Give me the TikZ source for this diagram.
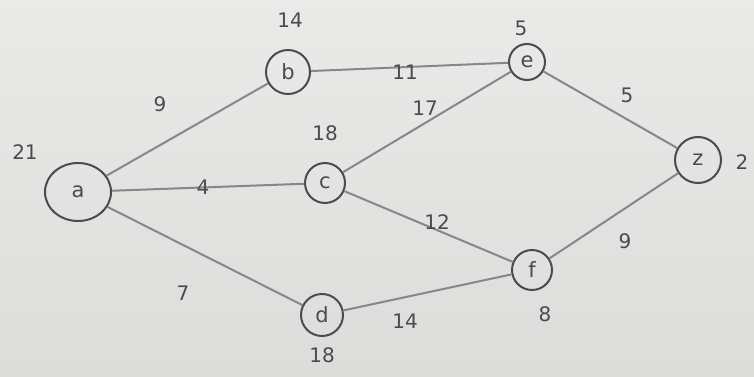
\documentclass[tikz,border=0pt]{standalone}
\usepackage{fontspec}
\setmainfont{DejaVu Sans}
\usetikzlibrary{shapes.geometric}
\definecolor{paper}{RGB}{234,234,232}
\definecolor{paperdark}{RGB}{220,220,218}
\definecolor{ink}{RGB}{75,75,75}
\definecolor{edgeink}{RGB}{135,135,135}
\tikzset{
  vert/.style={circle, draw=ink, line width=2pt, minimum size=40pt, inner sep=0pt, font=\fontsize{21}{21}\selectfont, text=ink},
  edge/.style={draw=edgeink, line width=2pt},
  wlabel/.style={font=\fontsize{20}{20}\selectfont, text=ink, inner sep=0pt},
}
\begin{document}
\begin{tikzpicture}[x=1pt,y=-1pt]
\shade[top color=paper, bottom color=paperdark] (0,0) rectangle (754,377);
\useasboundingbox (0,0) rectangle (754,377);
\node[vert, ellipse, minimum width=66pt, minimum height=58pt] (a) at (78,192) {a};
\node[vert, minimum size=44pt] (b) at (288,72) {b};
\node[vert] (c) at (325,183) {c};
\node[vert, minimum size=42pt] (d) at (322,315) {d};
\node[vert, minimum size=36pt] (e) at (527,62) {e};
\node[vert] (f) at (532,270) {f};
\node[vert, minimum size=46pt] (z) at (698,160) {z};
\draw[edge] (a) -- (b);
\draw[edge] (a) -- (c);
\draw[edge] (a) -- (d);
\draw[edge] (b) -- (e);
\draw[edge] (c) -- (e);
\draw[edge] (c) -- (f);
\draw[edge] (d) -- (f);
\draw[edge] (e) -- (z);
\draw[edge] (f) -- (z);
% vertex values
\node[wlabel] (la) at (25,152) {21};
\node[wlabel] (lb) at (290,20) {14};
\node[wlabel] (lc) at (325,133) {18};
\node[wlabel] (ld) at (322,355) {18};
\node[wlabel] (le) at (521,28) {5};
\node[wlabel] (lf) at (545,314) {8};
\node[wlabel] (lz) at (742,162) {2};
% edge weights
\node[wlabel] (wab) at (160,104) {9};
\node[wlabel] (wac) at (203,187) {4};
\node[wlabel] (wad) at (183,293) {7};
\node[wlabel] (wbe) at (405,72) {11};
\node[wlabel] (wce) at (425,108) {17};
\node[wlabel] (wcf) at (437,222) {12};
\node[wlabel] (wdf) at (405,321) {14};
\node[wlabel] (wez) at (627,95) {5};
\node[wlabel] (wfz) at (625,241) {9};
\end{tikzpicture}
\end{document}
